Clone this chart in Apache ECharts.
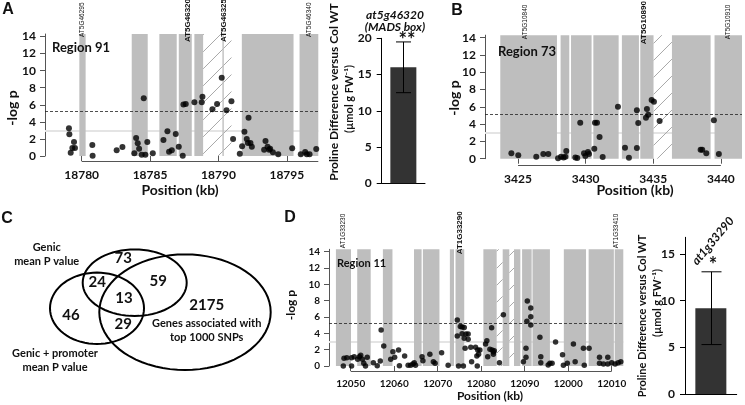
<!DOCTYPE html>
<html><head><meta charset="utf-8">
<script src="https://cdn.jsdelivr.net/npm/echarts@6/dist/echarts.min.js"></script>
<style>html,body{margin:0;padding:0;background:#fff}#c{width:745px;height:405px}</style>
</head><body><div id="c"></div>
<script>
// ---------------- DATA ----------------
// Panel A (Region 91)
const aPoints = [[18779.07,3.24],[18779.10,2.54],[18779.44,1.64],[18779.20,0.39],[18779.32,0.94],[18779.51,0.94],
[18780.78,1.29],[18780.80,0.04],[18782.56,0.66],[18782.98,1.05],
[18783.85,0.31],[18783.98,2.11],[18784.10,1.48],[18784.20,0.86],[18784.39,0.16],[18784.54,6.76],[18784.66,0.16],[18784.80,1.64],[18785.20,0.31],
[18785.98,1.88],[18786.27,2.89],[18786.39,0.51],[18786.59,0.66],[18786.88,2.58],[18787.10,1.09],[18787.39,0.04],[18787.44,6.05],[18787.61,6.09],
[18788.24,6.29],[18788.78,6.29],[18788.83,6.95],[18789.56,5.47],[18789.90,6.09],[18790.24,9.18],[18790.59,5.35],[18790.95,6.41],[18791.07,1.99],
[18791.56,0.27],[18791.73,1.13],[18791.90,2.85],[18792.07,1.99],[18792.20,4.49],[18792.15,1.52],[18792.34,1.52],[18792.44,1.09],
[18793.44,1.76],[18793.34,0.74],[18793.59,1.09],[18793.71,0.74],[18793.78,0.86],[18793.98,0.43],[18794.37,0.20],[18795.39,0.90],
[18796.02,0.20],[18796.34,0.47],[18796.46,0.20],[18796.66,0.20],[18797.15,0.82]];
const aBands = [[18779.83,18780.29],[18783.66,18784.83],[18785.68,18786.95],[18787.10,18788.05],[18788.24,18788.88],[18790.29,18790.39],[18791.71,18795.49],[18795.93,18797.3]];
const aHatch = [[18788.88,18790.95]];
const aGenes = [[18780.07,'AT5G46295',0],[18787.78,'AT5G46320',1],[18790.41,'AT5G46325',1],[18796.6,'AT5G46340',0]];
const aTicks = [18780,18785,18790,18795];
const aAxisSpan = [[18780,18797.3]];
const aThreshold = 5.29, aSuggestive = 3.0;

// Panel B (Region 73)
const bPoints = [[3424.51,0.62],[3425.02,0.39],[3426.35,0.23],[3426.87,0.54],[3427.24,0.54],[3427.96,0.04],[3428.18,0.23],[3428.37,0.15],[3428.50,0.23],[3428.57,0.89],
[3429.24,0.15],[3429.38,0.08],[3429.60,4.17],[3429.88,0.62],[3429.98,0.31],[3430.17,0.77],[3430.25,0.54],[3430.64,1.16],[3430.69,4.17],[3430.84,4.17],
[3431.03,2.51],[3431.26,0.19],[3432.39,6.02],[3432.91,1.27],[3433.20,0.12],[3433.79,1.24],[3433.79,5.60],[3433.89,4.13],[3434.46,4.75],[3434.53,5.75],
[3434.63,5.10],[3434.88,6.80],[3435.05,6.60],[3435.47,4.36],[3438.50,1.04],[3438.62,1.04],[3438.92,0.62],[3439.48,4.44],[3439.85,0.54]];
const bBands = [[3423.69,3427.88],[3428.15,3428.79],[3428.92,3430.44],[3430.57,3432.44],[3432.68,3433.94],[3434.04,3435.02],[3436.38,3439.24],[3439.53,3441.56]];
const bHatch = [[3435.02,3436.38]];
const bGenes = [[3425.52,'AT5G10840',0],[3434.33,'AT5G10890',1],[3440.54,'AT5G10910',0]];
const bTicks = [3425,3430,3435,3440];
const bAxisSpan = [[3425,3440]];
const bThreshold = 5.14, bSuggestive = 3.0;

// Panel D (Region 11)
const dPoints = [[12048.3,0.0],[12048.46,0.94],[12049.1,1.02],[12050.2,1.02],[12050.2,0.0],[12050.8,1.14],[12051.6,0.82],[12052.0,1.14],[12052.3,1.31],[12052.7,0.82],
[12053.0,0.33],[12053.4,0.0],[12053.8,1.06],[12055.2,0.41],[12056.1,0.04],[12056.8,0.61],[12057.0,4.41],[12057.6,2.45],[12059.2,0.82],[12059.7,1.76],
[12060.1,1.06],[12061.0,1.96],[12061.2,0.04],[12062.4,1.22],[12063.2,0.08],[12063.8,0.08],[12064.3,0.24],[12064.6,0.41],[12064.9,0.08],[12066.4,1.14],
[12066.6,0.65],[12068.2,1.43],[12069.0,0.53],[12069.4,0.33],[12070.9,1.63],[12072.4,0.08],
[12074.5,5.63],[12074.5,3.67],[12074.8,0.0],[12075.2,4.85],[12075.6,4.78],[12075.6,3.95],[12076.1,4.73],[12076.1,3.39],[12076.5,3.92],[12077.0,3.92],
[12077.0,3.27],[12076.3,2.16],[12075.9,0.0],[12077.6,2.29],[12078.7,2.29],[12079.2,1.96],[12079.4,1.43],[12079.0,1.22],[12077.8,0.53],[12079.1,0.0],[12079.7,1.96],
[12081.0,2.69],[12081.3,3.10],[12081.5,1.14],[12082.0,2.04],[12082.4,4.69],[12082.5,1.96],[12082.8,1.71],[12083.0,1.88],[12082.8,1.43],
[12084.2,0.41],[12085.1,6.29],[12089.7,0.53],[12090.3,2.16],[12090.3,1.06],[12090.6,7.96],[12090.5,5.47],[12091.4,7.10],[12091.4,6.04],[12091.4,5.02],
[12093.5,3.51],[12093.7,1.14],[12093.7,0.41],[12095.4,0.12],[12095.8,0.33],[12096.3,0.33],[12097.1,2.94],[12098.7,1.39],[12098.9,0.08],[12099.8,0.33],
[12101.2,2.69],[12101.6,0.53],[12103.5,2.16],[12103.7,0.08],[12104.8,2.16],[12107.2,1.06],[12107.2,0.33],[12108.1,0.24],[12109.1,1.06],[12109.1,0.24],
[12110.0,0.41],[12110.8,0.24],[12111.5,0.41],[12112.1,0.53]];
const dBands = [[12046.6,12050.07],[12051.5,12054.6],[12057.4,12059.6],[12064.55,12066.3],[12066.6,12070.4],[12072.8,12073.75],[12074.1,12076.1],
[12080.5,12083.56],[12084.94,12086.46],[12087.54,12089.0],[12089.4,12091.6],[12091.8,12095.8],[12099.0,12104.1],[12104.7,12110.5],[12110.7,12112.67]];
const dHatch = [[12083.56,12084.94],[12086.46,12087.54]];
const dGenes = [[12048.3,'AT1G33230',0],[12075.1,'AT1G33290',1],[12111.1,'AT1G33410',0]];
const dTicks = [12050,12060,12070,12080,12090,12100,12110];
const dTickLabels = ['12050','12060','12070','12080','12090','12000','12010'];
const dAxisSpan = [[12050,12110]];
const dThreshold = 5.22, dSuggestive = 3.0;

const yTicks = [0,2,4,6,8,10,12,14];

// Bar panels
const barACategory = ['at5g46320'];
const barAValue = [16.0];
const barAError = [3.5];
const barATicks = [0,5,10,15,20];
const barDCategory = ['at1g33290'];
const barDValue = [9.2];
const barDError = [3.9];
const barDTicks = [0,5,10,15];

// Venn (panel C)
const vennCounts = [73,24,59,13,46,29,2175];
const vennSetNames = ['Genic\nmean P value','Genic + promoter\nmean P value','Genes associated with\ntop 1000 SNPs'];

// ---------------- RENDER ----------------
const BAND = '#bebebe';
const BAND_TOP = 14.3;
const FONT = 'Lato, "Open Sans", sans-serif';
const chart = echarts.init(document.getElementById('c'));

function bandRender(params, api){
  const a = api.coord([api.value(0), 0]);
  const b = api.coord([api.value(1), BAND_TOP]);
  return {type:'rect', shape:{x:a[0], y:b[1], width:Math.max(b[0]-a[0],1), height:a[1]-b[1]}, style:{fill:BAND}};
}
function hatchRender(params, api){
  const a = api.coord([api.value(0), 0]);
  const b = api.coord([api.value(1), BAND_TOP]);
  const x0=a[0], x1=b[0], y0=b[1], y1=a[1], sp=17;
  const children=[];
  for(let c=Math.ceil((x0+y0)/sp)*sp; c<=x1+y1; c+=sp){
    const xs=Math.max(x0,c-y1), xe=Math.min(x1,c-y0);
    if(xe>xs) children.push({type:'line', shape:{x1:xs,y1:c-xs,x2:xe,y2:c-xe}, style:{stroke:'#a9a9a9', lineWidth:1}});
  }
  return {type:'group', children};
}
function labelRender(genes, offSmall, offBig){
  return function(params, api){
    const g = genes[params.dataIndex];
    const p = api.coord([g[0], BAND_TOP]);
    const big = g[2]===1;
    return {type:'text', x:p[0], y:p[1]+(big?offBig:offSmall), rotation:Math.PI/2,
      style:{text:g[1], fill:'#111', font: big ? 'bold 8px "Liberation Sans"' : '6.5px "Liberation Sans"', align:'left', verticalAlign:'middle'}};
  };
}
function axisLineRender(offset){
  return function(params, api){
    const a = api.coord([api.value(0),0]), b = api.coord([api.value(1),0]);
    const y = Math.round(a[1]+offset)+0.5;
    return {type:'line', shape:{x1:a[0],y1:y,x2:b[0],y2:y}, style:{stroke:'#555', lineWidth:1}};
  };
}
function errRender(cap){
  return function(params, api){
    const lo = api.coord([api.value(0), api.value(1)]);
    const hi = api.coord([api.value(0), api.value(2)]);
    const x = Math.round(lo[0])+0.5;
    const st = {stroke:'#000', lineWidth:1};
    return {type:'group', children:[
      {type:'line', shape:{x1:x,y1:lo[1],x2:x,y2:hi[1]}, style:st},
      {type:'line', shape:{x1:x-cap,y1:lo[1],x2:x+cap,y2:lo[1]}, style:st},
      {type:'line', shape:{x1:x-cap,y1:hi[1],x2:x+cap,y2:hi[1]}, style:st}
    ]};
  };
}

const panels = [
  {pts:aPoints, bands:aBands, hatch:aHatch, genes:aGenes, ticks:aTicks, span:aAxisSpan, thr:aThreshold, sug:aSuggestive,
   grid:{left:45, top:34, width:273.3, height:122}, xmin:18777.32, xmax:18797.3, off:5, lblSmall:3, lblBig:8, sym:6, fs:12, labels:null},
  {pts:bPoints, bands:bBands, hatch:bHatch, genes:bGenes, ticks:bTicks, span:bAxisSpan, thr:bThreshold, sug:bSuggestive,
   grid:{left:485, top:35.15, width:257, height:123.55}, xmin:3422.56, xmax:3441.56, off:6, lblSmall:4, lblBig:9, sym:6, fs:12, labels:null},
  {pts:dPoints, bands:dBands, hatch:dHatch, genes:dGenes, ticks:dTicks, span:dAxisSpan, thr:dThreshold, sug:dSuggestive,
   grid:{left:329, top:249.3, width:294.3, height:116.7}, xmin:12045.01, xmax:12112.67, off:5, lblSmall:-1, lblBig:5, sym:5.5, fs:10, labels:dTickLabels}
];

const grids=[], xAxes=[], yAxes=[], series=[];
panels.forEach((p,i)=>{
  grids.push(p.grid);
  xAxes.push({type:'value', gridIndex:i, min:p.xmin, max:p.xmax, offset:p.off,
    axisLine:{show:false}, splitLine:{show:false},
    axisTick:{show:true, customValues:p.ticks, length:5, lineStyle:{color:'#555'}},
    axisLabel:{customValues:p.ticks, margin:8, fontSize:p.fs, fontFamily:FONT, color:'#111', fontWeight:'bold',
      formatter: p.labels ? (v)=>p.labels[p.ticks.indexOf(v)] : (v)=>String(v)}});
  yAxes.push({type:'value', gridIndex:i, min:0, max:BAND_TOP, splitLine:{show:false},
    axisLine:{show:true, lineStyle:{color:'#555'}},
    axisTick:{show:true, customValues:yTicks, length:5, lineStyle:{color:'#555'}},
    axisLabel:{customValues:yTicks, margin:9, fontSize:p.fs, fontFamily:FONT, color:'#111', fontWeight:'bold'}});
  series.push({type:'custom', xAxisIndex:i, yAxisIndex:i, z:1, silent:true, renderItem:hatchRender, data:p.hatch,
    markLine:{z:1, silent:true, symbol:'none', label:{show:false}, data:[{yAxis:p.sug}], lineStyle:{color:'#e4e4e4', width:2, type:'solid'}}});
  series.push({type:'custom', xAxisIndex:i, yAxisIndex:i, z:2, silent:true, renderItem:bandRender, data:p.bands});
  series.push({type:'scatter', xAxisIndex:i, yAxisIndex:i, z:4, silent:true, symbolSize:p.sym, itemStyle:{color:'#000'}, data:p.pts,
    markLine:{z:3, silent:true, symbol:'none', label:{show:false}, data:[{yAxis:p.thr}], lineStyle:{color:'#222', width:0.8, type:[3,2]}}});
  series.push({type:'custom', xAxisIndex:i, yAxisIndex:i, z:5, silent:true, renderItem:labelRender(p.genes, p.lblSmall, p.lblBig), data:p.genes.map(g=>[g[0],0])});
  series.push({type:'custom', xAxisIndex:i, yAxisIndex:i, z:5, silent:true, renderItem:axisLineRender(p.off), data:p.span});
});

// bar grids
const bars = [
  {cat:barACategory, val:barAValue, err:barAError, ticks:barATicks, max:20, grid:{left:381.7, top:38.3, width:43.3, height:145}, bw:26, cap:7.5},
  {cat:barDCategory, val:barDValue, err:barDError, ticks:barDTicks, max:16.8, grid:{left:685, top:237.3, width:51.7, height:156.7}, bw:31, cap:10}
];
bars.forEach((b,k)=>{
  const i = 3+k;
  grids.push(b.grid);
  xAxes.push({type:'category', gridIndex:i, data:b.cat, axisLine:{show:true, lineStyle:{color:'#000'}}, axisTick:{show:false}, axisLabel:{show:false}});
  yAxes.push({type:'value', gridIndex:i, min:0, max:b.max, splitLine:{show:false},
    axisLine:{show:true, lineStyle:{color:'#000'}},
    axisTick:{show:true, customValues:b.ticks, length:5, lineStyle:{color:'#000'}},
    axisLabel:{customValues:b.ticks, margin:10, fontSize:12, fontFamily:FONT, color:'#111', fontWeight:'bold'}});
  series.push({type:'bar', xAxisIndex:i, yAxisIndex:i, barWidth:b.bw, itemStyle:{color:'#333333'}, silent:true, data:b.val});
  series.push({type:'custom', xAxisIndex:i, yAxisIndex:i, z:5, silent:true, renderItem:errRender(b.cap),
    encode:{x:0, y:[1,2]}, data:b.val.map((v,j)=>[j, v-b.err[j], v+b.err[j]])});
});

// Venn ellipses as polygons
function ellipsePts(cx,cy,rx,ry){const pts=[];for(let t=0;t<72;t++){const a=t/72*2*Math.PI;pts.push([cx+rx*Math.cos(a),cy+ry*Math.sin(a)]);}return pts;}
const vennShapes = [[134.7,282.7,52,33.3],[97,308.3,47,35.7],[185,312.2,85.7,57.8]];
const vennNumPos = [[123.3,258.3],[97.3,281.7],[158.3,281],[124,297.7],[71,315],[123.3,324],[206.7,305.3]];
const vennNamePos = [[46.7,254],[55,360.5],[206.7,330.3]];

const T = (text,x,y,o={},rot=0) => ({type:'text', x, y, rotation:rot, z:100, silent:true,
  style:Object.assign({text, fill:'#111', font:'bold 13px '+FONT, align:'center', verticalAlign:'middle'}, o)});
const graphics = [];
vennShapes.forEach(s=>graphics.push({type:'polygon', silent:true, shape:{points:ellipsePts(...s)}, style:{fill:'none', stroke:'#000', lineWidth:2}}));
vennCounts.forEach((c,j)=>graphics.push(T(String(c), vennNumPos[j][0], vennNumPos[j][1], {font:'bold 15px '+FONT})));
vennSetNames.forEach((n,j)=>graphics.push(T(n, vennNamePos[j][0], vennNamePos[j][1], {font:'bold 11px '+FONT, lineHeight:14})));

const R90 = Math.PI/2;
// panel letters
graphics.push(T('A',8,10,{font:'bold 16px "Liberation Sans"'}));
graphics.push(T('B',457,11,{font:'bold 16px "Liberation Sans"'}));
graphics.push(T('C',7,219,{font:'bold 16px "Liberation Sans"'}));
graphics.push(T('D',290,218,{font:'bold 16px "Liberation Sans"'}));
// region labels
graphics.push(T('Region 91',52,48,{align:'left', font:'bold 13px '+FONT}));
graphics.push(T('Region 73',498,52,{align:'left', font:'bold 13px '+FONT}));
graphics.push(T('Region 11',337,263,{align:'left', font:'bold 11px '+FONT}));
// axis titles
graphics.push(T('-log p',12,108,{font:'bold 14px '+FONT},R90));
graphics.push(T('Position (kb)',180,190,{font:'bold 14px '+FONT}));
graphics.push(T('-log p',454,98,{font:'bold 14px '+FONT},R90));
graphics.push(T('Position (kb)',635,190,{font:'bold 14px '+FONT}));
graphics.push(T('-log p',291,305,{font:'bold 12px '+FONT},R90));
graphics.push(T('Position (kb)',490,396,{font:'bold 12px '+FONT}));
// bar axis titles
graphics.push(T('Proline Difference versus Col WT',334,92,{font:'bold 12px '+FONT},R90));
graphics.push(T('(µmol g FW⁻¹)',349,99,{font:'bold 11px '+FONT},R90));
graphics.push(T('Proline Difference versus Col WT',642,316,{font:'bold 11px '+FONT},R90));
graphics.push(T('(µmol g FW⁻¹)',657,303,{font:'bold 11px '+FONT},R90));
// bar annotations
graphics.push(T('at5g46320',395,15,{font:'italic bold 12px '+FONT}));
graphics.push(T('(MADS box)',395,27,{font:'italic bold 12px '+FONT}));
graphics.push(T('**',407,41,{font:'bold 20px '+FONT}));
graphics.push(T('at1g33290',713,241,{font:'italic bold 12px '+FONT},50*Math.PI/180));
graphics.push(T('*',713,266,{font:'bold 20px '+FONT}));

chart.setOption({
  animation:false,
  backgroundColor:'#fff',
  grid:grids, xAxis:xAxes, yAxis:yAxes, series,
  graphic:{elements:graphics}
});
</script></body></html>
